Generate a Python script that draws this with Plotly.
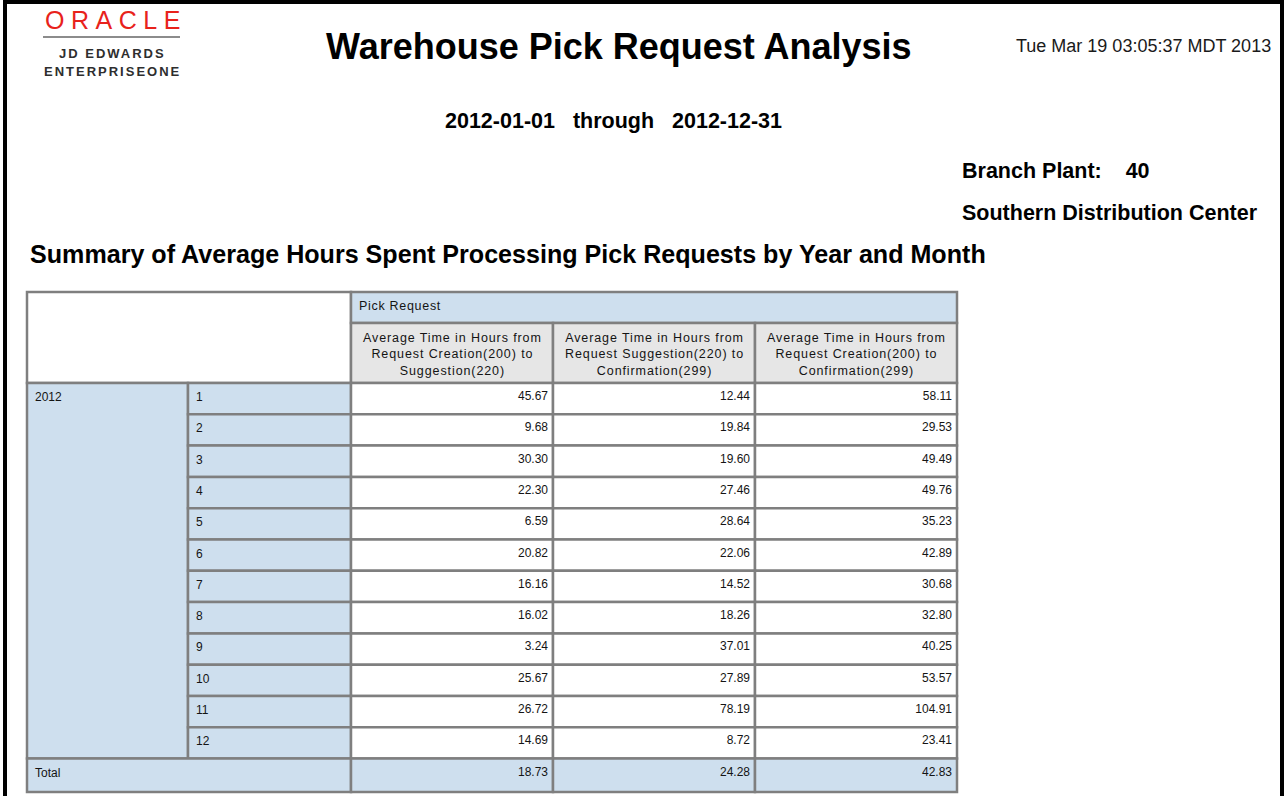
import plotly.graph_objects as go

# ---------------- data ----------------
report_title = "Warehouse Pick Request Analysis"
report_timestamp = "Tue Mar 19 03:05:37 MDT 2013"
date_from = "2012-01-01"
date_to = "2012-12-31"
branch_plant = "40"
branch_name = "Southern Distribution Center"
section_title = "Summary of Average Hours Spent Processing Pick Requests by Year and Month"

group_header = "Pick Request"
column_headers = [
    ["Average Time in Hours from", "Request Creation(200) to", "Suggestion(220)"],
    ["Average Time in Hours from", "Request Suggestion(220) to", "Confirmation(299)"],
    ["Average Time in Hours from", "Request Creation(200) to", "Confirmation(299)"],
]
year_label = "2012"
months = ["1", "2", "3", "4", "5", "6", "7", "8", "9", "10", "11", "12"]
creation_to_suggestion = [45.67, 9.68, 30.30, 22.30, 6.59, 20.82, 16.16, 16.02, 3.24, 25.67, 26.72, 14.69]
suggestion_to_confirmation = [12.44, 19.84, 19.60, 27.46, 28.64, 22.06, 14.52, 18.26, 37.01, 27.89, 78.19, 8.72]
creation_to_confirmation = [58.11, 29.53, 49.49, 49.76, 35.23, 42.89, 30.68, 32.80, 40.25, 53.57, 104.91, 23.41]
total_label = "Total"
totals = [18.73, 24.28, 42.83]

# ---------------- layout constants ----------------
W, H = 1287, 796
FONT = "Liberation Sans, Arial, sans-serif"
BLUE = "#CEDFEE"
GREY_HDR = "#E6E6E6"
BORDER = "#7F7F7F"
TXT = "#141414"

col_edges = [27, 188, 351, 553, 755, 957]
hdr_top, hdr_mid, hdr_bot = 292, 323, 383
row_h = 31.3
total_h = 33.5
data_bot = hdr_bot + row_h * len(months)
total_bot = data_bot + total_h

fig = go.Figure()
shapes = []
annotations = []


def spaced(text, px):
    return f'<span style="letter-spacing:{px}px">{text}</span>'


def cell(x0, x1, y0, y1, fill):
    shapes.append(dict(type="rect", xref="x", yref="y", x0=x0, x1=x1, y0=y0, y1=y1,
                       fillcolor=fill, line=dict(color=BORDER, width=2.5), layer="below"))


def label(x, y, text, size, bold=False, color=TXT, xanchor="left", align="left"):
    t = f"<b>{text}</b>" if bold else text
    annotations.append(dict(x=x, y=y, xref="x", yref="y", text=t, showarrow=False,
                            xanchor=xanchor, yanchor="middle", align=align,
                            font=dict(family=FONT, size=size, color=color)))


# page frame (black rule on left, top, right)
for x0, x1, y0, y1 in [(3, 7, 0, H), (3, 1284, 0, 4), (1280, 1284, 0, H)]:
    shapes.append(dict(type="rect", xref="x", yref="y", x0=x0, x1=x1, y0=y0, y1=y1,
                       fillcolor="black", line=dict(width=0)))

# logo
label(116, 20, spaced("ORACLE", 6.5), 25, color="#E8221B", xanchor="center")
shapes.append(dict(type="line", xref="x", yref="y", x0=43, x1=180, y0=37, y1=37,
                   line=dict(color="#8C8C8C", width=2)))
label(112, 53, spaced("JD EDWARDS", 2), 13, bold=True, color="#2E2E2E", xanchor="center")
label(112, 71, spaced("ENTERPRISEONE", 2), 13, bold=True, color="#2E2E2E", xanchor="center")

# headings
label(619, 46, report_title, 36, bold=True, color="#000000", xanchor="center")
label(1273, 46, report_timestamp, 18, color="#1A1A1A", xanchor="right")
label(613, 121, f"{date_from}&nbsp;&nbsp;&nbsp;through&nbsp;&nbsp;&nbsp;{date_to}", 21.5,
      bold=True, color="#000000", xanchor="center")
label(960, 171, f"Branch Plant:&nbsp;&nbsp;&nbsp;&nbsp;{branch_plant}", 21.5, bold=True, color="#000000")
label(960, 213, branch_name, 21.5, bold=True, color="#000000")
label(28, 254, section_title, 25.1, bold=True, color="#000000")

# ---------------- table ----------------
cell(col_edges[0], col_edges[2], hdr_top, hdr_bot, "white")
cell(col_edges[2], col_edges[5], hdr_top, hdr_mid, BLUE)
label(col_edges[2] + 6, (hdr_top + hdr_mid) / 2 - 2, spaced(group_header, 0.7), 12.5)
for j, hdr in enumerate(column_headers):
    x0, x1 = col_edges[2 + j], col_edges[3 + j]
    cell(x0, x1, hdr_mid, hdr_bot, GREY_HDR)
    text = "<br>".join(spaced(line, 0.9) for line in hdr)
    label((x0 + x1) / 2, (hdr_mid + hdr_bot) / 2 + 1, text, 12.5, xanchor="center", align="center")

cell(col_edges[0], col_edges[1], hdr_bot, data_bot, BLUE)
label(col_edges[0] + 6, hdr_bot + 14, year_label, 12)

series = [creation_to_suggestion, suggestion_to_confirmation, creation_to_confirmation]
for i, m in enumerate(months):
    y0 = hdr_bot + i * row_h
    y1 = y0 + row_h
    cell(col_edges[1], col_edges[2], y0, y1, BLUE)
    label(col_edges[1] + 6, y0 + 14, m, 12)
    for j in range(3):
        cell(col_edges[2 + j], col_edges[3 + j], y0, y1, "white")

cell(col_edges[0], col_edges[2], data_bot, total_bot, BLUE)
label(col_edges[0] + 6, data_bot + 14, total_label, 12)
for j in range(3):
    cell(col_edges[2 + j], col_edges[3 + j], data_bot, total_bot, BLUE)

# values drawn as text marks through the axes
for j, vals in enumerate(series):
    xr = col_edges[3 + j] - 5
    fig.add_trace(go.Scatter(
        x=[xr] * (len(vals) + 1),
        y=[hdr_bot + i * row_h + 14 for i in range(len(vals))] + [data_bot + 14],
        text=[f"{v:.2f}" for v in vals] + [f"{totals[j]:.2f}"],
        mode="text", textposition="middle left",
        textfont=dict(family=FONT, size=12, color=TXT),
        hoverinfo="skip", showlegend=False,
    ))

fig.update_layout(
    width=W, height=H,
    margin=dict(l=0, r=0, t=0, b=0),
    paper_bgcolor="white", plot_bgcolor="white",
    xaxis=dict(range=[0, W], visible=False, fixedrange=True),
    yaxis=dict(range=[H, 0], visible=False, fixedrange=True),
    shapes=shapes, annotations=annotations,
    showlegend=False,
)

fig.write_html("out.html", config={"displayModeBar": False},
               post_script="document.body.style.margin='0';")
